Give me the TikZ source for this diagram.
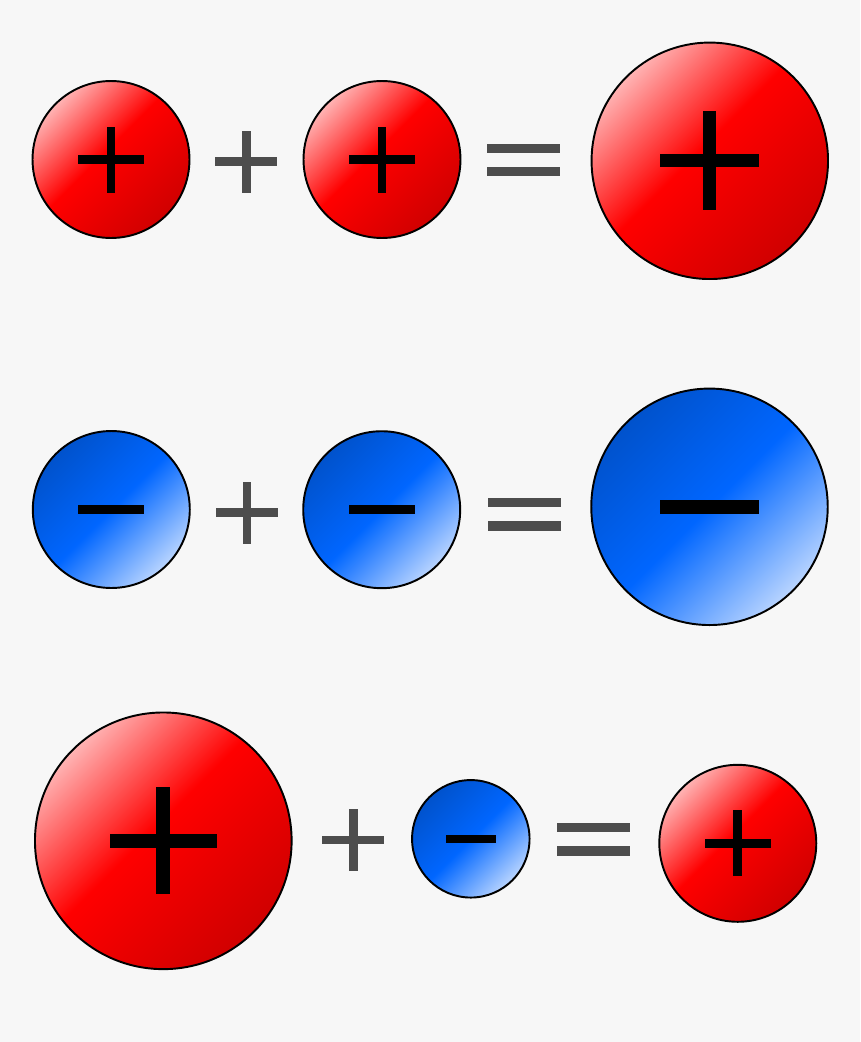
\documentclass[tikz,border=0pt]{standalone}
\definecolor{bg}{HTML}{F7F7F7}
\definecolor{opgray}{HTML}{4D4D4D}
\definecolor{redlight}{HTML}{FFB3B3}
\definecolor{redmid}{HTML}{FF0000}
\definecolor{reddark}{HTML}{D00000}
\definecolor{bluedark}{HTML}{0052CC}
\definecolor{bluemid}{HTML}{0066FF}
\definecolor{bluelight}{HTML}{B8D4FF}
\pgfdeclarehorizontalshading{redballshade}{100bp}{color(0bp)=(redlight); color(25bp)=(redlight); color(47bp)=(redmid); color(75bp)=(reddark); color(100bp)=(reddark)}
\pgfdeclarehorizontalshading{blueballshade}{100bp}{color(0bp)=(bluedark); color(25bp)=(bluedark); color(50bp)=(bluemid); color(75bp)=(bluelight); color(100bp)=(bluelight)}
\tikzset{
  ball/.style={circle, draw=black, line width=1.1pt, inner sep=0pt, minimum size=#1, shading angle=-45},
  redball/.style={ball=#1, shading=redballshade},
  blueball/.style={ball=#1, shading=blueballshade},
  sign/.style={fill=black},
  op/.style={fill=opgray},
}
% plus sign: #1 center, #2 half length, #3 half thickness, #4 style
\newcommand\myplus[4]{%
  \fill[#4, shift={(#1)}] (-#2,-#3) rectangle (#2,#3);
  \fill[#4, shift={(#1)}] (-#3,-#2) rectangle (#3,#2);}
\newcommand\myminus[4]{%
  \fill[#4, shift={(#1)}] (-#2,-#3) rectangle (#2,#3);}
\newcommand\myequals[1]{%
  \fill[op, shift={(#1)}] (-36.5,-16.3) rectangle (36.5,-7.0);
  \fill[op, shift={(#1)}] (-36.5,7.0) rectangle (36.5,16.3);}
\begin{document}
\begin{tikzpicture}[x=0.02cm, y=-0.02cm]
\fill[bg] (0,0) rectangle (860,1042);
\useasboundingbox (0,0) rectangle (860,1042);
% row 1
\node[redball=3.14cm] (r1a) at (111,159.5) {};
\node[redball=3.14cm] (r1b) at (382,159.5) {};
\node[redball=4.73cm] (r1c) at (709.8,160.8) {};
\coordinate (p1) at (246.3,161.5);
\coordinate (e1) at (523.7,159.8);
\myplus{r1a.center}{33}{4.2}{sign}
\myplus{r1b.center}{33}{4.2}{sign}
\myplus{r1c.center}{49.5}{6.5}{sign}
\myplus{p1}{31}{4.2}{op}
\myequals{e1}
% row 2
\node[blueball=3.14cm] (r2a) at (111.3,509.5) {};
\node[blueball=3.14cm] (r2b) at (381.7,509.7) {};
\node[blueball=4.73cm] (r2c) at (709.5,506.8) {};
\coordinate (p2) at (247,512.6);
\coordinate (e2) at (524,514.2);
\myminus{r2a.center}{33}{4.6}{sign}
\myminus{r2b.center}{33}{4.6}{sign}
\myminus{r2c.center}{49.5}{7}{sign}
\myplus{p2}{31}{4.2}{op}
\myequals{e2}
% row 3
\node[redball=5.134cm] (r3a) at (163.3,840.8) {};
\node[blueball=2.35cm] (r3b) at (470.8,838.8) {};
\node[redball=3.14cm] (r3c) at (737.8,843.3) {};
\coordinate (p3) at (353.3,840.2);
\coordinate (e3) at (593.8,839.2);
\myplus{r3a.center}{53.5}{7}{sign}
\myminus{r3b.center}{25}{3.9}{sign}
\myplus{r3c.center}{33}{4.5}{sign}
\myplus{p3}{31}{4.2}{op}
\myequals{e3}
\end{tikzpicture}
\end{document}
